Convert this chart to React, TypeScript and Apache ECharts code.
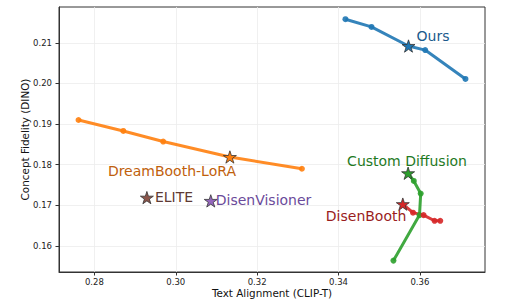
import React, { useEffect, useRef } from "react";
import * as echarts from "echarts";

// ---- data ----
const xTicks = [0.28, 0.3, 0.32, 0.34, 0.36];
const yTicks = [0.16, 0.17, 0.18, 0.19, 0.2, 0.21];

const oursX = [0.3417, 0.3481, 0.3572, 0.3613, 0.3712];
const oursY = [0.2158, 0.2139, 0.2092, 0.2082, 0.2011];
const oursStar = 2;

const loraX = [0.2761, 0.2871, 0.2969, 0.3133, 0.331];
const loraY = [0.191, 0.1883, 0.1857, 0.1819, 0.179];
const loraStar = 3;

const cdX = [0.3571, 0.3585, 0.3602, 0.3599, 0.3535];
const cdY = [0.1779, 0.176, 0.1729, 0.1676, 0.1564];
const cdStar = 0;

const dbX = [0.3558, 0.3583, 0.3609, 0.3636, 0.365];
const dbY = [0.1703, 0.1682, 0.1676, 0.1662, 0.1662];
const dbStar = 0;

const eliteX = [0.2929];
const eliteY = [0.1719];
const disenVX = [0.3086];
const disenVY = [0.1711];

const FONT = "DejaVu Sans";
const STAR =
  "path://M0,-10 L2.245,-3.09 L9.51,-3.09 L3.633,1.18 L5.878,8.09 L0,3.82 L-5.878,8.09 L-3.633,1.18 L-9.51,-3.09 L-2.245,-3.09 Z";

function makeSeries(
  name: string,
  xs: number[],
  ys: number[],
  starIdx: number,
  color: string,
  labelColor: string,
  offset: number[],
  isLine: boolean
) {
  const data = xs.map((x, i) => {
    if (i !== starIdx) return { value: [x, ys[i]] };
    return {
      value: [x, ys[i]],
      symbol: STAR,
      symbolSize: 13,
      symbolKeepAspect: true,
      itemStyle: { color, borderColor: "#333", borderWidth: 0.8, opacity: 1 },
      label: {
        show: true,
        formatter: name,
        position: "inside",
        align: "left",
        verticalAlign: "middle",
        offset,
        color: labelColor,
        fontSize: 14,
        fontFamily: FONT,
      },
      z: 10,
    };
  });
  return {
    type: isLine ? "line" : "scatter",
    name,
    data,
    symbol: "circle",
    symbolSize: 6,
    showAllSymbol: true,
    lineStyle: { color, width: 3, opacity: 0.9 },
    itemStyle: { color, opacity: 0.9 },
    label: { show: false },
    emphasis: { disabled: true },
    z: 3,
  };
}

export default function App() {
  const ref = useRef<HTMLDivElement>(null);
  useEffect(() => {
    if (!ref.current) return;
    const chart = echarts.init(ref.current, undefined, { renderer: "svg" });
    chart.setOption({
      animation: false,
      grid: {
        left: 59,
        right: 29,
        top: 7,
        bottom: 36,
        show: true,
        borderColor: "#333",
        borderWidth: 1,
      },
      xAxis: {
        type: "value",
        min: 0.2713,
        max: 0.376,
        splitNumber: 5,
        name: "Text Alignment (CLIP-T)",
        nameLocation: "middle",
        nameGap: 16,
        nameMoveOverlap: false,
        nameTextStyle: { fontFamily: FONT, fontSize: 10.4, color: "#111" },
        axisLine: { show: true, lineStyle: { color: "#333", width: 1 } },
        axisTick: {
          show: true,
          length: 3.5,
          lineStyle: { color: "#333" },
          customValues: xTicks,
        },
        axisLabel: {
          customValues: xTicks,
          formatter: (v: number) => v.toFixed(2),
          fontFamily: FONT,
          fontSize: 8.5,
          color: "#222",
          margin: 5,
        },
        splitLine: { show: true, lineStyle: { color: "#ececec", width: 0.8 } },
      },
      yAxis: {
        type: "value",
        min: 0.1536,
        max: 0.2188,
        splitNumber: 6,
        name: "Concept Fidelity (DINO)",
        nameLocation: "middle",
        nameGap: 29,
        nameMoveOverlap: false,
        nameTextStyle: { fontFamily: FONT, fontSize: 10.4, color: "#111" },
        axisLine: { show: true, lineStyle: { color: "#333", width: 1 } },
        axisTick: {
          show: true,
          length: 3.5,
          lineStyle: { color: "#333" },
          customValues: yTicks,
        },
        axisLabel: {
          customValues: yTicks,
          formatter: (v: number) => v.toFixed(2),
          fontFamily: FONT,
          fontSize: 8.5,
          color: "#222",
          margin: 7,
        },
        splitLine: { show: true, lineStyle: { color: "#ececec", width: 0.8 } },
      },
      series: [
        makeSeries("Ours", oursX, oursY, oursStar, "#1f77b4", "#1b5a8c", [8, -10], true),
        makeSeries("DreamBooth-LoRA", loraX, loraY, loraStar, "#ff7f0e", "#c0600b", [-122, 14], true),
        makeSeries("Custom Diffusion", cdX, cdY, cdStar, "#2ca02c", "#1f7a1f", [-61, -12], true),
        makeSeries("DisenBooth", dbX, dbY, dbStar, "#d62728", "#9a1d1d", [-77, 12], true),
        makeSeries("ELITE", eliteX, eliteY, 0, "#8c564b", "#5e3a33", [8, -1], false),
        makeSeries("DisenVisioner", disenVX, disenVY, 0, "#9467bd", "#6a4a9a", [5, -1], false),
      ],
    });
    return () => chart.dispose();
  }, []);
  return <div ref={ref} style={{ width: 514, height: 308, position: "absolute", left: 0, top: 0 }} />;
}
